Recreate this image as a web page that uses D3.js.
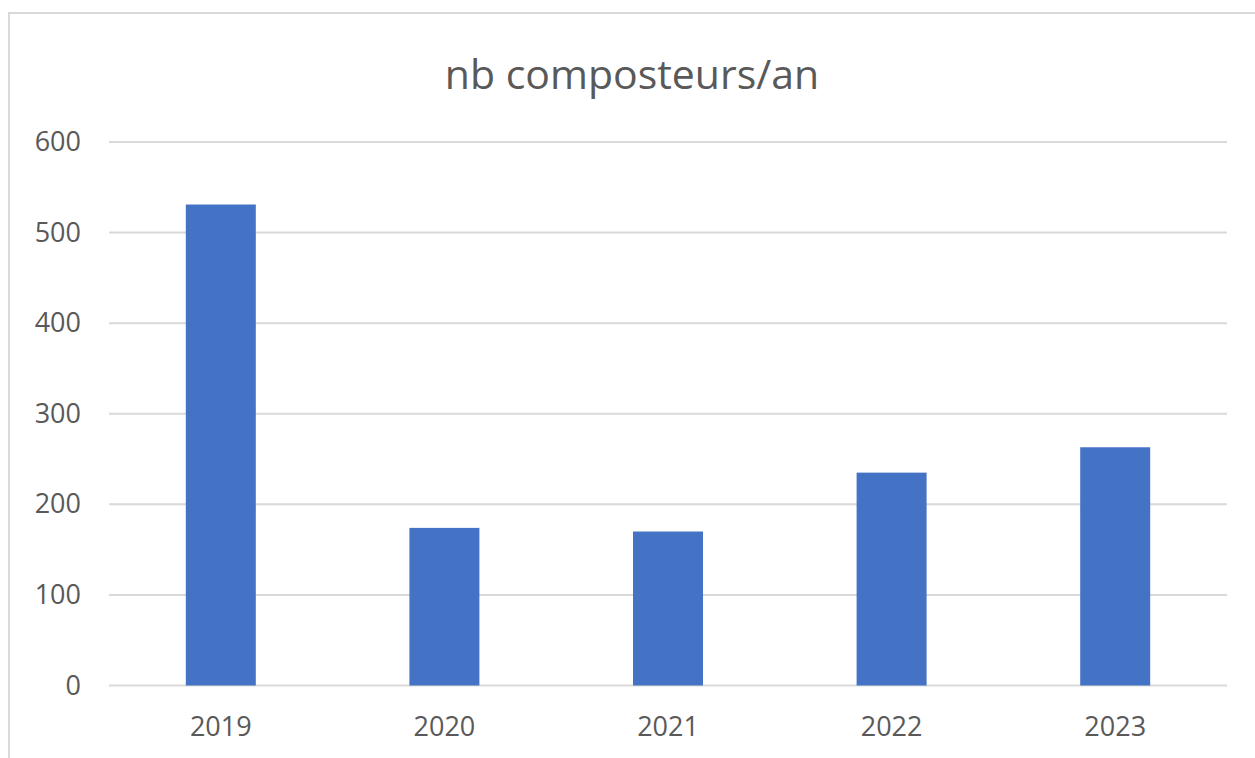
<!DOCTYPE html>
<html>
<head>
<meta charset="utf-8">
<script src="https://cdn.jsdelivr.net/npm/d3@7"></script>
<style>
  body { margin: 0; background: #fff; }
  text { font-family: "Open Sans", "Noto Sans", sans-serif; fill: #595959; }
</style>
</head>
<body>
<div id="chart"></div>
<script>
"use strict";

// data
let years = ["2019", "2020", "2021", "2022", "2023"];
let composteurs = [531, 174, 170, 235, 263];
let yTicks = [0, 100, 200, 300, 400, 500, 600];
let title = "nb composteurs/an";

var width = 1255,
    height = 758;

var svg = d3.select('#chart').append('svg')
  .attr('width', width)
  .attr('height', height);

// chart frame (cropped on right / bottom)
svg.append('path')
  .attr('d', 'M9,' + height + 'V13H' + width)
  .attr('fill', 'none')
  .attr('stroke', '#d9d9d9')
  .attr('stroke-width', 2);

var xScale = d3.scaleBand()
  .domain(years)
  .range([109, 1227])
  .paddingInner(0.687)
  .paddingOuter(0.3435);

var yScale = d3.scaleLinear()
  .domain([0, 600])
  .range([685.5, 142]);

// gridlines
svg.append('g')
  .selectAll('line').data(yTicks)
  .enter().append('line')
    .attr('x1', 109)
    .attr('x2', 1227)
    .attr('y1', function(d) { return yScale(d); })
    .attr('y2', function(d) { return yScale(d); })
    .attr('stroke', '#d9d9d9')
    .attr('stroke-width', 2);

// y axis labels
var yAxis = d3.axisLeft(yScale).tickValues(yTicks).tickSize(0).tickPadding(0);
svg.append('g')
  .attr('transform', 'translate(81,0)')
  .call(yAxis)
  .call(function(g) { g.select('.domain').remove(); })
  .selectAll('text')
    .style('font-size', '27px')
    .attr('fill', '#595959');

// bars
svg.append('g')
  .selectAll('rect').data(composteurs)
  .enter().append('rect')
    .attr('x', function(d, i) { return xScale(years[i]); })
    .attr('width', xScale.bandwidth())
    .attr('y', function(d) { return yScale(d); })
    .attr('height', function(d) { return yScale(0) - yScale(d); })
    .style('fill', '#4472c4');

// x axis labels
var xAxis = d3.axisBottom(xScale).tickSize(0).tickPadding(0);
svg.append('g')
  .attr('transform', 'translate(0,' + 717 + ')')
  .call(xAxis)
  .call(function(g) { g.select('.domain').remove(); })
  .selectAll('text')
    .style('font-size', '27px')
    .attr('fill', '#595959');

svg.append('text')
  .attr('x', 632)
  .attr('y', 89)
  .attr('text-anchor', 'middle')
  .style('font-size', '41px')
  .text(title);
</script>
</body>
</html>
